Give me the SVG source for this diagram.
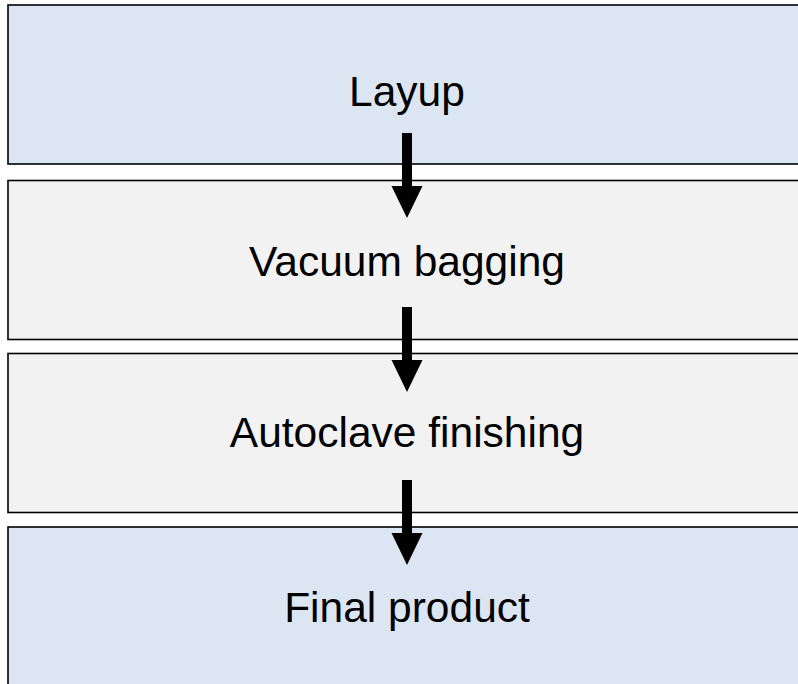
<svg xmlns="http://www.w3.org/2000/svg" width="798" height="684" viewBox="0 0 798 684">
<style>
.box{stroke:#000;stroke-width:1.6}
.blue{fill:#dce6f2}
.gray{fill:#f2f2f2}
.lbl{font-family:"Liberation Sans",Arial,sans-serif;font-size:42.5px;fill:#000;text-anchor:middle}
.arr{fill:#000}
</style>
<rect width="798" height="684" fill="#fff"/>
<g id="layup">
<rect class="box blue" x="8" y="5" width="800" height="159"/>
<text class="lbl" x="407" y="105.5">Layup</text>
</g>
<g id="vacuum-bagging">
<rect class="box gray" x="8" y="180.5" width="800" height="159"/>
<text class="lbl" x="407" y="275.5">Vacuum bagging</text>
</g>
<g id="autoclave-finishing">
<rect class="box gray" x="8" y="353.5" width="800" height="159"/>
<text class="lbl" x="407" y="446.5">Autoclave finishing</text>
</g>
<g id="final-product">
<rect class="box blue" x="8" y="527" width="800" height="170"/>
<text class="lbl" x="407" y="621.5">Final product</text>
</g>
<g id="connectors">
<polygon class="arr" points="402,133 412,133 412,186 422.5,186 407,218 391.5,186 402,186"/>
<polygon class="arr" points="402,307 412,307 412,360 422.5,360 407,392 391.5,360 402,360"/>
<polygon class="arr" points="402,480 412,480 412,533 422.5,533 407,565 391.5,533 402,533"/>
</g>
</svg>
